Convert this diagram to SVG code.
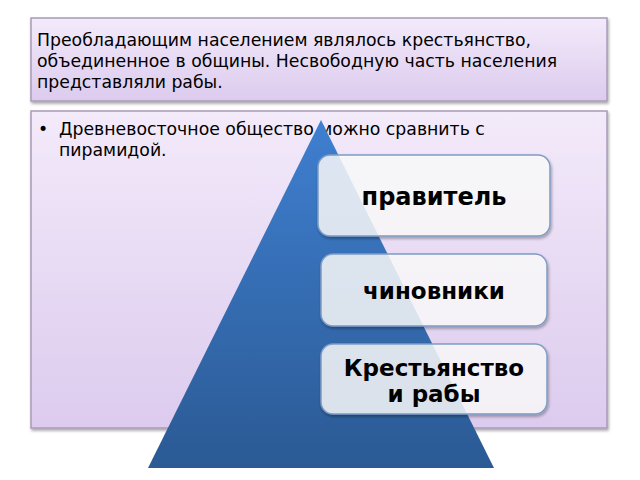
<svg xmlns="http://www.w3.org/2000/svg" width="640" height="480" viewBox="0 0 640 480">
<defs>
<linearGradient id="bg" x1="0" y1="0" x2="0" y2="1"><stop offset="0" stop-color="#f3eafa"/><stop offset="1" stop-color="#dccbee"/></linearGradient>
<linearGradient id="tri" x1="0" y1="0" x2="0" y2="1"><stop offset="0" stop-color="#3f7fd0"/><stop offset="1" stop-color="#2b5a94"/></linearGradient>
<filter id="sh" x="-10%" y="-10%" width="120%" height="130%"><feDropShadow dx="1" dy="2" stdDeviation="1.5" flood-color="#000" flood-opacity="0.35"/></filter>
<style>
.panel{fill:url(#bg);stroke:#a99bb8;stroke-width:1.5}
.box{fill:#ffffff;fill-opacity:0.8;stroke:#7f9cc4;stroke-width:1.5}
.t{font-family:"DejaVu Sans",sans-serif;fill:#000}
.lbl{font-family:"DejaVu Sans",sans-serif;font-weight:bold;fill:#000;text-anchor:middle}
</style>
</defs>
<rect width="640" height="480" fill="#fff"/>
<rect class="panel" x="31" y="18" width="576" height="83" filter="url(#sh)"/>
<text class="t" font-size="17.3"><tspan x="37" y="46">Преобладающим населением являлось крестьянство,</tspan><tspan x="37" y="67">объединенное в общины. Несвободную часть населения</tspan><tspan x="37" y="88">представляли рабы.</tspan></text>
<rect class="panel" x="31" y="111" width="576" height="317" filter="url(#sh)"/>
<text class="t" font-size="17.3"><tspan x="38" y="135">•</tspan><tspan x="59" y="135">Древневосточное общество можно сравнить с</tspan><tspan x="59" y="156">пирамидой.</tspan></text>
<g id="pyramid"><polygon points="321,120 494,468 148,468" fill="url(#tri)"/></g>
<g id="n1"><rect class="box" x="318" y="155" width="232" height="81" rx="12" filter="url(#sh)"/><text class="lbl" x="434" y="205" font-size="24">правитель</text></g>
<g id="n2"><rect class="box" x="321" y="254" width="226" height="72" rx="12" filter="url(#sh)"/><text class="lbl" x="434" y="299" font-size="23">чиновники</text></g>
<g id="n3"><rect class="box" x="321" y="344" width="226" height="70" rx="12" filter="url(#sh)"/><text class="lbl" x="434" y="376" font-size="23">Крестьянство</text><text class="lbl" x="434" y="402" font-size="23">и рабы</text></g>
<g id="connectors"/>
</svg>
